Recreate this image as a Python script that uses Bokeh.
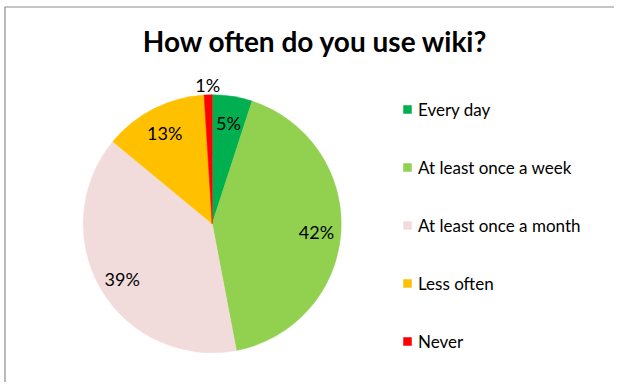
import numpy as np
from bokeh.plotting import figure
from bokeh.models import ColumnDataSource, Range1d, Label, Legend, LegendItem
from bokeh.core.properties import value
from bokeh.embed import file_html
from bokeh.resources import INLINE

categories = ["Every day", "At least once a week", "At least once a month", "Less often", "Never"]
percents = [5, 42, 39, 13, 1]
colors = ["#00B050", "#92D050", "#F2DCDB", "#FFC000", "#FF0000"]
title_text = "How often do you use wiki?"

W, H = 614, 382
p = figure(width=W, height=H, output_backend="svg", toolbar_location=None,
           x_range=Range1d(0, W), y_range=Range1d(0, H), min_border=0)
p.axis.visible = False
p.grid.visible = False
p.outline_line_color = None
p.background_fill_color = "white"
p.border_fill_color = "white"

vals = np.array(percents, dtype=float)
frac = vals / vals.sum()
cum_end = np.cumsum(frac)
cum_start = cum_end - frac
start = np.pi / 2 - 2 * np.pi * cum_start
end = np.pi / 2 - 2 * np.pi * cum_end
mid = (start + end) / 2

# 1 data unit = 1 px, origin at the canvas bottom-left
cx, cy, R = 211.7, 158.7, 129
rf = np.where(frac < 0.03, 1.09, 0.81)
src = ColumnDataSource(dict(cat=categories, start=start, end=end, color=colors,
                            lx=cx + rf * R * np.cos(mid), ly=cy + rf * R * np.sin(mid) - 2,
                            lab=[f"{v}%" for v in percents]))

# chart-area frame (top and left edges visible)
p.line(x=[4.5, 4.5, W], y=[0, H - 6.5, H - 6.5], line_color="#8C8C8C", line_width=1.2)

wr = p.wedge(x=cx, y=cy, radius=R, radius_units="screen", start_angle="start", end_angle="end",
             direction="clock", fill_color="color", line_color="color", line_width=0.5, source=src)

p.text(x="lx", y="ly", text="lab", source=src, text_font=value("Lato"), text_font_size="18px",
       text_align="center", text_baseline="middle", text_color="#000000")

p.add_layout(Label(x=315, y=H - 40, text=title_text, text_font="Lato", text_font_style="bold",
                   text_font_size="28px", text_align="center", text_baseline="middle",
                   text_color="#000000"))

legend = Legend(items=[LegendItem(label=c, renderers=[wr], index=i) for i, c in enumerate(categories)],
                location=(402, 29), orientation="vertical", padding=0, margin=0,
                spacing=34, glyph_width=10, glyph_height=10, label_height=24,
                label_standoff=6, border_line_color=None, background_fill_alpha=0,
                label_text_font="Lato", label_text_font_size="17px", label_text_color="#000000")
p.add_layout(legend, "center")

open("out.html", "w").write(file_html(p, INLINE))
